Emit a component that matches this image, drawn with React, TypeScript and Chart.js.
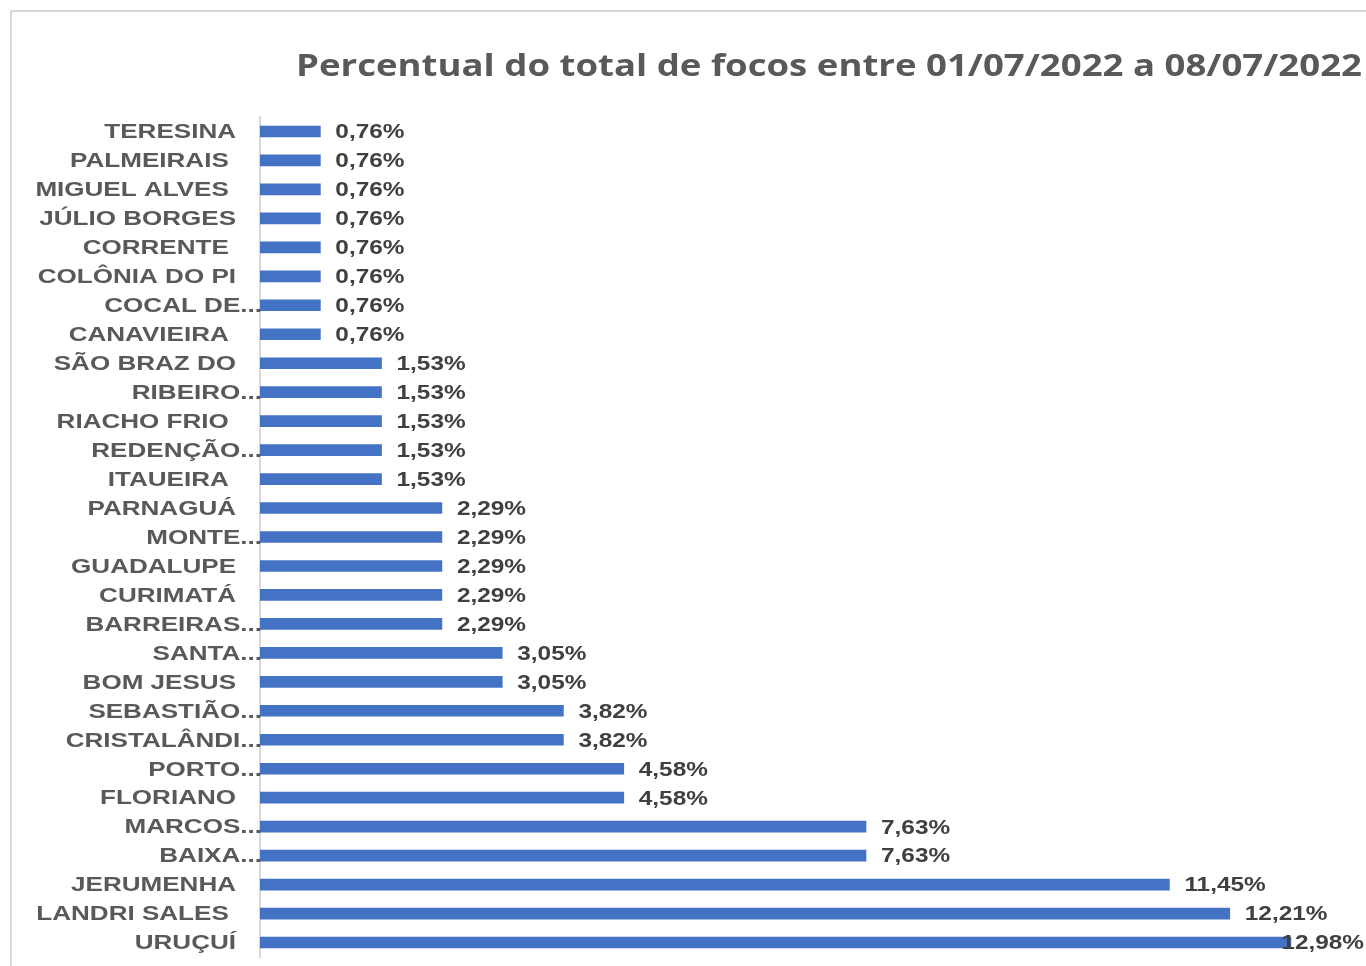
import React, { useEffect, useRef } from "react";
import { Chart, registerables } from "chart.js";

Chart.register(...registerables);

const TITLE = "Percentual do total de focos entre 01/07/2022 a 08/07/2022";

const categories: string[] = [
  "TERESINA",
  "PALMEIRAIS ",
  "MIGUEL ALVES ",
  "JÚLIO BORGES",
  "CORRENTE ",
  "COLÔNIA DO PI",
  "COCAL DE...",
  "CANAVIEIRA ",
  "SÃO BRAZ DO",
  "RIBEIRO...",
  "RIACHO FRIO ",
  "REDENÇÃO...",
  "ITAUEIRA ",
  "PARNAGUÁ",
  "MONTE...",
  "GUADALUPE",
  "CURIMATÁ",
  "BARREIRAS...",
  "SANTA...",
  "BOM JESUS",
  "SEBASTIÃO...",
  "CRISTALÂNDI...",
  "PORTO...",
  "FLORIANO",
  "MARCOS...",
  "BAIXA...",
  "JERUMENHA",
  "LANDRI SALES ",
  "URUÇUÍ",
];

const percentages: number[] = [
  0.76, 0.76, 0.76, 0.76, 0.76, 0.76, 0.76, 0.76,
  1.53, 1.53, 1.53, 1.53, 1.53,
  2.29, 2.29, 2.29, 2.29, 2.29,
  3.05, 3.05,
  3.82, 3.82,
  4.58, 4.58,
  7.63, 7.63,
  11.45, 12.21, 12.98,
];

const X_MAX = 13.9;
const STRETCH = 1.24;

function stretchedText(
  ctx: CanvasRenderingContext2D,
  text: string,
  x: number,
  y: number,
  align: CanvasTextAlign,
  font: string,
  color: string,
  sx: number
) {
  ctx.save();
  ctx.font = font;
  ctx.fillStyle = color;
  ctx.textAlign = align;
  ctx.textBaseline = "middle";
  ctx.translate(x, y);
  ctx.scale(sx, 1);
  ctx.fillText(text, 0, 0);
  ctx.restore();
}

const decorPlugin = {
  id: "decor",
  beforeDraw(chart: any) {
    const ctx: CanvasRenderingContext2D = chart.ctx;
    ctx.save();
    ctx.fillStyle = "#ffffff";
    ctx.fillRect(0, 0, chart.width, chart.height);
    ctx.strokeStyle = "#d9d9d9";
    ctx.lineWidth = 2;
    ctx.beginPath();
    ctx.moveTo(11, chart.height);
    ctx.lineTo(11, 11);
    ctx.lineTo(chart.width, 11);
    ctx.stroke();
    ctx.restore();
  },
  afterDatasetsDraw(chart: any) {
    const ctx: CanvasRenderingContext2D = chart.ctx;
    const yScale = chart.scales.y;
    const meta = chart.getDatasetMeta(0);
    const labelFont = "bold 21px 'Liberation Sans', Arial, sans-serif";
    const valueFont = "bold 19.5px 'Liberation Sans', Arial, sans-serif";

    // Title
    ctx.save();
    const titleFont = "bold 30px 'Open Sans', sans-serif";
    ctx.font = titleFont;
    const tw = ctx.measureText(TITLE).width;
    ctx.restore();
    const titleSx = 1066 / tw;
    stretchedText(ctx, TITLE, 829, 67, "center", titleFont, "#595959", titleSx);

    // Category labels
    categories.forEach((label, i) => {
      const y = yScale.getPixelForValue(i) + 1;
      const truncated = label.endsWith("...");
      const right = truncated ? 262 : 236;
      stretchedText(ctx, label, right, y, "right", labelFont, "#595959", STRETCH);
    });

    // Value labels
    meta.data.forEach((bar: any, i: number) => {
      const text = percentages[i].toFixed(2).replace(".", ",") + "%";
      ctx.save();
      ctx.font = valueFont;
      const w = ctx.measureText(text).width * 1.25;
      ctx.restore();
      const x = Math.min(bar.x + 15, chart.width - w - 2);
      stretchedText(ctx, text, x, bar.y + 1.5, "left", valueFont, "#404040", 1.25);
    });
  },
};

export default function App() {
  const canvasRef = useRef<HTMLCanvasElement | null>(null);

  useEffect(() => {
    document.body.style.margin = "0";
    document.body.style.overflow = "hidden";
    const canvas = canvasRef.current;
    if (!canvas) return;
    const chart = new Chart(canvas, {
      type: "bar",
      data: {
        labels: categories,
        datasets: [
          {
            data: percentages,
            backgroundColor: "#4472C4",
            borderWidth: 0,
            barThickness: 11,
          },
        ],
      },
      options: {
        indexAxis: "y",
        responsive: false,
        animation: false,
        devicePixelRatio: 1,
        layout: {
          padding: { left: 260, top: 117, right: 2, bottom: 9 },
        },
        plugins: {
          legend: { display: false },
          title: { display: false },
          tooltip: { enabled: false },
        },
        scales: {
          x: {
            display: false,
            min: 0,
            max: X_MAX,
          },
          y: {
            grid: { display: false, drawTicks: false },
            ticks: { display: false },
            border: { display: true, color: "#d9d9d9", width: 2 },
          },
        },
      },
      plugins: [decorPlugin],
    });
    return () => chart.destroy();
  }, []);

  return (
    <div style={{ position: "fixed", left: 0, top: 0, width: 1366, height: 966 }}>
      <canvas ref={canvasRef} width={1366} height={966} style={{ width: 1366, height: 966 }} />
    </div>
  );
}
